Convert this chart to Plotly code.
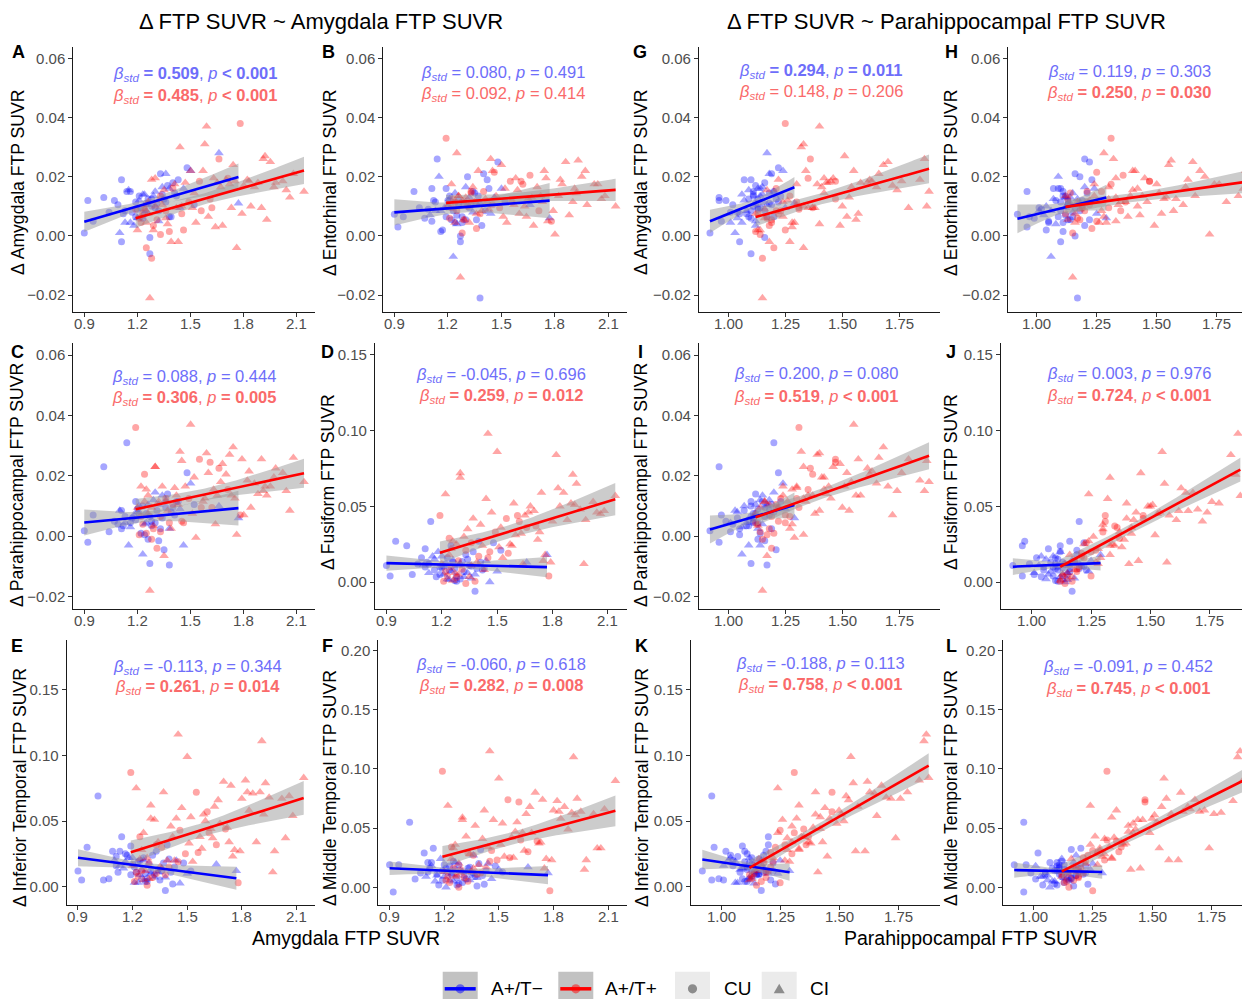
import numpy as np
import plotly.graph_objects as go

W, H = 1242, 999
FONT = "Liberation Sans, Arial, sans-serif"

# ---------------- data: A+/T- (blue) ----------------
blue_amy = [0.90,1.01,1.38,1.14,1.66,1.77,1.23,1.27,0.92,0.95,1.04,1.09,1.11,1.11,1.10,1.12,1.15,1.16,1.17,1.18,
            1.19,1.20,1.21,1.22,1.23,1.24,1.25,1.25,1.26,1.27,1.28,1.29,1.30,1.31,1.32,1.33,1.34,1.35,1.36,1.37,
            1.39,1.40,1.42,1.44,1.46,1.48,1.50,1.52,1.13,1.07,
            1.13,1.16,1.19,1.21,1.24,1.26,1.28,1.30,1.32,1.34,1.36,1.38,1.41,1.43,1.20]
blue_ph = [0.92,0.96,1.17,1.20,1.17,1.29,1.06,1.10,0.96,0.97,1.01,1.02,1.07,1.05,1.03,1.08,1.09,1.11,1.04,1.12,
           1.09,1.13,1.07,1.14,1.10,1.15,1.12,1.08,1.13,1.16,1.11,1.14,1.13,1.18,1.12,1.19,1.15,1.21,1.18,1.12,
           1.20,1.16,1.23,1.25,1.14,1.22,1.24,1.19,1.01,0.99,
           1.10,1.06,1.15,1.11,1.05,1.17,1.09,1.20,1.16,1.11,1.22,1.13,1.18,1.10,1.04]
blue_ci = [0,0,0,0,1,1,1,0,0,0,0,0,0,0,1,0,1,0,0,1,0,0,1,0,0,1,0,1,0,0,0,1,0,0,1,0,1,0,1,0,0,0,0,1,1,0,1,0,1,0,
           0,1,0,0,0,1,0,1,0,0,0,1,0,0,1]
blue_d_amy = [0.001,0.013,0.0065,0.015,0.028,0.011,0.014,-0.006,0.012,0.005,0.008,0.0105,0.019,-0.002,0.001,0.0075,
              0.0155,0.015,0.008,0.0035,0.0065,0.009,0.012,0.0095,0.006,0.014,0.011,0.0085,0.0125,-0.0005,0.010,
              0.0135,0.0095,0.011,0.005,0.021,0.0165,0.0125,0.021,0.017,0.0065,0.018,0.0135,0.0095,0.016,0.023,
              0.022,0.0105,0.0045,0.012,
              0.0085,0.0045,0.0115,0.0135,0.0075,0.0105,0.0125,0.015,0.0085,0.014,0.0115,0.016,0.0145,0.019,0.006]
blue_d_ent = [0.0073,0.015,-0.021,0.026,0.0105,0.006,-0.007,-0.002,0.003,0.0065,0.0095,0.009,0.016,0.005,0.007,0.012,
              0.020,0.0015,0.002,0.0095,0.016,0.012,0.0125,0.0055,0.0085,0.0145,0.007,0.004,0.0105,0.000,0.0045,
              0.011,0.0055,0.020,0.013,0.0105,0.008,0.0145,0.011,0.0135,0.0035,0.021,0.019,0.0075,0.013,0.025,
              0.016,0.012,0.0085,0.006,
              0.0115,0.0085,0.0065,0.0135,0.0045,0.0125,0.0065,0.0165,0.0095,0.015,0.0055,0.011,0.0085,0.016,0.010]
blue_d_phc = [0.0018,0.023,-0.0095,0.031,0.010,0.006,-0.006,-0.009,-0.002,0.007,0.0015,0.004,0.0085,0.0025,0.0085,
              0.0035,-0.003,0.0045,0.006,0.007,0.0055,0.009,0.010,0.001,0.010,0.004,0.0075,0.0045,-0.001,0.0065,
              0.005,0.012,0.0045,0.0085,0.0105,0.0025,0.0135,-0.0045,0.012,0.014,0.008,0.0095,0.0115,0.009,-0.003,
              0.021,0.0175,0.0105,0.0045,0.005,
              0.0065,0.003,0.0115,0.0075,0.0005,0.0105,0.0035,0.0145,-0.0015,0.006,0.0095,0.0025,0.007,0.0115,0.008]
blue_d_fus = [0.011,0.024,-0.006,0.040,0.013,0.018,0.002,0.001,0.004,0.027,0.005,0.016,0.022,0.010,0.011,0.013,
              0.017,0.008,0.0035,0.020,0.010,0.0095,0.005,0.012,0.016,0.0015,0.024,0.007,0.013,0.009,0.0005,0.011,
              0.002,0.0135,0.0035,0.018,0.006,0.011,0.0025,0.020,0.009,0.027,0.008,0.014,0.000,0.026,0.007,0.021,
              0.006,0.012,
              0.012,0.015,0.005,0.0105,0.008,0.0145,0.004,0.012,0.007,0.015,0.0105,0.005,0.013,0.009,0.017]
blue_d_it = [0.012,0.069,-0.003,0.038,0.017,0.012,0.003,0.004,0.005,0.030,
             0.005,0.027,0.023,0.016,0.020,0.011,0.014,0.025,0.024,0.022,
             0.031,0.017,0.003,0.011,0.019,0.009,0.006,0.013,0.022,0.010,
             0.004,0.018,0.012,0.024,0.007,0.027,0.011,0.005,0.014,0.018,
             0.032,0.021,0.002,0.020,0.0025,0.018,0.010,0.012,0.016,0.006,
             0.027,0.019,0.009,0.015,0.020,0.020,0.006,0.010,0.009,0.013,
             0.012,0.007,0.011,0.015,0.022]
blue_d_mt = [0.019,0.055,0.001,0.033,0.017,0.012,0.006,0.002,-0.004,0.019,0.007,0.029,0.021,0.013,0.009,0.016,
             0.005,0.011,0.002,0.024,0.014,0.019,0.000,0.013,0.018,0.011,0.022,0.005,0.015,0.008,0.019,0.014,
             0.004,0.010,0.013,0.016,0.006,0.011,0.027,0.009,0.020,0.032,0.0025,0.020,0.007,0.018,0.015,0.013,
             0.018,0.012,
             0.021,0.010,0.006,0.016,0.011,0.021,0.003,0.013,0.007,0.017,0.012,0.008,0.010,0.014,0.009]

# ---------------- data: A+/T+ (red) ----------------
red_amy = [1.19,1.20,1.21,1.22,1.23,1.24,1.25,1.25,1.26,1.27,1.28,1.28,1.29,1.30,1.31,1.32,1.33,1.34,1.35,1.36,
           1.37,1.39,1.40,1.42,1.44,1.45,1.46,1.47,1.49,1.50,1.51,1.53,1.55,1.57,1.59,1.60,1.62,1.63,1.65,1.66,
           1.68,1.70,1.72,1.74,1.75,1.76,1.78,1.79,1.80,1.82,1.84,1.86,1.88,1.90,1.91,1.93,1.95,1.98,2.02,2.06,
           2.08,2.14,1.24,1.30,1.38,1.43,1.56,1.64,1.71,1.97,
           1.22,1.26,1.29,1.33,1.36,1.41,1.45,1.52,1.58,1.61,1.67,1.73,1.83,1.92,2.04]
red_ph = [1.31,1.14,1.17,1.24,1.13,1.16,1.20,1.28,1.12,1.15,1.15,1.22,1.18,1.33,1.19,1.26,1.14,1.30,1.17,1.23,
          1.40,1.27,1.21,1.35,1.32,1.87,1.25,1.44,1.30,1.55,1.38,1.29,1.47,1.34,1.40,1.52,1.31,1.42,1.58,1.36,
          1.49,1.62,1.39,1.68,1.45,1.33,1.25,1.57,1.72,1.84,1.50,1.65,1.43,1.79,1.86,1.56,1.70,1.61,1.76,1.53,
          1.66,1.88,1.37,1.46,1.12,1.18,1.21,1.28,1.35,1.41,
          1.19,1.24,1.13,1.27,1.16,1.30,1.22,1.42,1.33,1.47,1.54,1.37,1.63,1.51,1.74]
red_ci = [0,1,0,1,0,1,0,1,1,1,0,1,0,1,0,1,0,1,1,0,1,1,0,1,1,1,0,1,0,1,1,1,0,1,1,1,0,1,1,0,
          1,1,1,1,1,1,0,1,1,1,1,1,1,1,1,1,1,1,1,1,1,1,0,1,0,1,0,1,0,1,
          0,1,1,0,1,1,0,1,1,0,1,1,1,1,1]
red_d_amy = [0.009,0.002,0.006,0.0065,0.0075,0.009,-0.004,0.0045,0.0075,-0.021,-0.0075,0.019,0.0035,0.010,0.0055,
             0.012,0.0005,0.0105,0.0155,0.0085,0.004,-0.002,0.016,0.0095,0.030,0.010,0.002,0.018,0.0115,0.022,
             0.0095,0.0045,0.0185,0.022,0.037,0.0065,0.0095,0.0195,0.018,0.026,0.0035,0.019,0.0175,0.024,0.0185,
             -0.004,0.038,0.0075,0.017,0.019,0.010,0.0165,0.018,0.0095,0.026,0.0055,0.025,0.018,0.0185,0.013,
             0.021,0.015,0.0095,0.0195,0.0015,-0.002,0.0085,0.003,0.0195,0.0165,
             0.0045,0.0115,0.002,0.0135,0.006,0.0175,0.0075,0.0145,0.031,0.0125,0.0165,0.0095,0.0185,0.027,0.0155]
red_d_ent = [0.033,0.0105,0.006,0.0175,0.0125,0.0045,0.0085,0.028,0.0135,-0.014,0.001,0.012,0.0055,0.013,0.010,
             0.0045,0.0145,0.0165,0.0115,0.0025,0.022,0.0085,0.015,0.0115,0.026,0.022,0.0215,0.0135,0.0095,0.024,
             0.0065,0.0045,0.0185,0.0105,0.0155,0.0075,0.0175,0.010,0.0125,0.0205,0.0035,0.0165,0.0135,0.022,
             0.0195,0.005,0.005,0.0085,0.0005,0.0135,0.0175,0.025,0.007,0.0115,0.016,0.0255,0.020,0.0105,0.0175,
             0.0125,0.0135,0.010,0.0115,0.0115,0.0075,0.009,0.0115,0.0065,0.0085,0.022,
             0.0095,0.0135,0.0055,0.015,0.0075,0.0125,0.0105,0.016,0.0195,0.0185,0.013,0.0115,0.019,0.0145,0.0175]
red_d_phc = [0.036,0.0095,0.0005,0.0165,0.004,0.0115,0.001,0.0155,0.0075,-0.018,-0.001,0.0095,0.0025,0.023,-0.004,
             0.0115,0.0015,0.0165,-0.0065,0.0125,0.0085,0.0025,0.0105,0.0135,0.028,0.025,0.0045,0.0165,0.0125,
             0.037,0.0075,-0.0005,0.0255,0.0115,0.0275,0.021,0.0095,0.0155,0.0135,0.0225,0.024,0.0205,0.027,
             0.0295,0.0125,0.0005,0.007,0.0255,0.007,0.0185,0.0095,0.0175,0.014,0.0255,0.015,0.0135,0.0165,
             0.0225,0.021,0.0085,0.026,0.018,0.0205,0.023,0.0045,0.0105,0.0095,0.004,0.0155,0.0195,
             0.0065,0.0135,0.0035,0.0065,0.0115,0.016,0.005,0.0195,0.0125,0.0245,0.018,0.0135,0.0215,0.0165,0.015]
red_d_fus = [0.044,0.012,0.0005,0.058,0.004,0.018,0.010,0.022,0.001,0.006,0.003,0.025,0.014,0.069,0.0085,0.030,
             -0.001,0.035,0.0035,0.026,0.042,0.013,0.017,0.024,0.055,0.098,0.020,0.046,0.033,0.086,0.023,0.016,
             0.042,0.025,0.052,0.031,0.040,0.032,0.044,0.036,0.050,0.047,0.028,0.059,0.014,0.018,0.004,0.013,
             0.040,0.084,0.050,0.059,0.041,0.052,0.071,0.065,0.048,0.041,0.053,0.045,0.047,0.057,0.029,0.072,
             0.0005,0.008,0.019,0.012,0.037,0.012,
             0.007,0.027,0.005,0.021,0.011,0.038,0.016,0.036,0.024,0.044,0.046,0.033,0.062,0.051,0.046]
red_d_it = [0.087,0.016,0.004,0.075,0.008,0.021,0.012,0.028,0.005,0.012,0.001,0.022,0.018,0.062,0.007,0.051,
            0.010,0.034,0.015,0.030,0.072,0.020,0.015,0.038,0.052,0.116,0.043,0.060,0.025,0.099,0.033,0.019,
            0.072,0.038,0.055,0.050,0.041,0.044,0.061,0.032,0.048,0.080,0.045,0.077,0.023,0.028,0.003,0.027,
            0.067,0.081,0.058,0.071,0.034,0.072,0.111,0.079,0.068,0.027,0.067,0.069,0.054,0.083,0.038,0.052,
            0.009,0.020,0.026,0.037,0.044,0.011,
            0.011,0.041,0.006,0.032,0.014,0.046,0.019,0.053,0.029,0.057,0.066,0.034,0.072,0.055,0.037]
red_d_mt = [0.098,0.013,0.006,0.069,0.004,0.024,0.016,0.033,0.009,0.010,0.000,0.020,0.015,0.059,0.008,0.043,
            0.005,0.028,0.013,0.027,0.052,0.019,0.012,0.065,0.034,0.115,0.031,0.057,0.023,0.092,0.036,0.026,
            0.074,0.042,0.047,0.055,0.040,0.046,0.062,0.030,0.046,0.080,0.037,0.074,0.016,0.024,-0.003,0.023,
            0.065,0.073,0.058,0.068,0.049,0.063,0.110,0.075,0.064,0.023,0.062,0.033,0.066,0.090,0.034,0.057,
            0.011,0.017,0.025,0.031,0.039,0.015,
            0.009,0.036,0.012,0.029,0.016,0.041,0.022,0.054,0.025,0.072,0.068,0.038,0.064,0.061,0.033]

# ---------------- annotation statistics ----------------
panel_letters = ["A","B","C","D","E","F","G","H","I","J","K","L"]
beta_blue = ["0.509","0.080","0.088","-0.045","-0.113","-0.060","0.294","0.119","0.200","0.003","-0.188","-0.091"]
pcmp_blue = ["<","=","=","=","=","=","=","=","=","=","=","="]
pval_blue = ["0.001","0.491","0.444","0.696","0.344","0.618","0.011","0.303","0.080","0.976","0.113","0.452"]
sig_blue = [True,False,False,False,False,False,True,False,False,False,False,False]
beta_red = ["0.485","0.092","0.306","0.259","0.261","0.282","0.148","0.250","0.519","0.724","0.758","0.745"]
pcmp_red = ["<","=","=","=","=","=","=","=","<","<","<","<"]
pval_red = ["0.001","0.414","0.005","0.012","0.014","0.008","0.206","0.030","0.001","0.001","0.001","0.001"]
sig_red = [True,False,True,True,True,True,False,True,True,True,True,True]

groups = {
    "blue": dict(x={"amy": blue_amy, "ph": blue_ph}, ci=blue_ci,
                 y={"amy": blue_d_amy, "ent": blue_d_ent, "phc": blue_d_phc,
                    "fus": blue_d_fus, "it": blue_d_it, "mt": blue_d_mt},
                 pt="rgba(0,0,255,0.5)", line="#0000FF", txt="#6E6EFA"),
    "red": dict(x={"amy": red_amy, "ph": red_ph}, ci=red_ci,
                y={"amy": red_d_amy, "ent": red_d_ent, "phc": red_d_phc,
                   "fus": red_d_fus, "it": red_d_it, "mt": red_d_mt},
                pt="rgba(255,0,0,0.5)", line="#FF0000", txt="#FA6A6A"),
}
for g in groups.values():
    n = len(g["ci"])
    assert all(len(v) == n for v in g["x"].values()), "x length"
    assert all(len(v) == n for v in g["y"].values()), "y length"

ylabels = {"amy": "Δ Amygdala FTP SUVR", "ent": "Δ Entorhinal FTP SUVR",
           "phc": "Δ Parahippocampal FTP SUVR", "fus": "Δ Fusiform FTP SUVR",
           "it": "Δ Inferior Temporal FTP SUVR", "mt": "Δ Middle Temporal FTP SUVR"}

T_SMALL = ([-0.02, 0, 0.02, 0.04, 0.06], ["−0.02", "0.00", "0.02", "0.04", "0.06"])
T_15 = ([0, 0.05, 0.10, 0.15], ["0.00", "0.05", "0.10", "0.15"])
T_20 = ([0, 0.05, 0.10, 0.15, 0.20], ["0.00", "0.05", "0.10", "0.15", "0.20"])
XT_AMY = ([0.9, 1.2, 1.5, 1.8, 2.1], ["0.9", "1.2", "1.5", "1.8", "2.1"])
XT_PH = ([1.0, 1.25, 1.5, 1.75], ["1.00", "1.25", "1.50", "1.75"])

# layout spec per panel: pixel box (left, right, top, bottom), ranges, ticks, label positions
panels = [
    dict(xv="amy", yv="amy", box=(73.3, 315, 46.5, 311.7), xr=(0.838, 2.202), yr=(-0.0256, 0.064), yt=T_SMALL, st=(195, 74, 96), yl=(18, 183), lt=(18, 52)),
    dict(xv="amy", yv="ent", box=(383.3, 626.7, 46.5, 311.7), xr=(0.838, 2.202), yr=(-0.0256, 0.064), yt=T_SMALL, st=(503, 73, 94), yl=(330, 183), lt=(328, 52)),
    dict(xv="amy", yv="phc", box=(73.3, 315, 343, 609), xr=(0.838, 2.202), yr=(-0.0241, 0.064), yt=T_SMALL, st=(194, 377, 398), yl=(17, 485), lt=(17, 352)),
    dict(xv="amy", yv="fus", box=(375, 626.7, 343, 609), xr=(0.838, 2.202), yr=(-0.0178, 0.1579), yt=T_15, st=(501, 375, 396), yl=(328, 482), lt=(327, 352)),
    dict(xv="amy", yv="it", box=(66.7, 315, 640, 905), xr=(0.838, 2.202), yr=(-0.014, 0.188), yt=T_15, st=(197, 667, 687), yl=(20, 788), lt=(17, 646)),
    dict(xv="amy", yv="mt", box=(378.3, 626.7, 640, 905), xr=(0.838, 2.202), yr=(-0.015, 0.209), yt=T_20, st=(501, 665, 686), yl=(330, 788), lt=(327, 646)),
    dict(xv="ph", yv="amy", box=(699, 940, 46.5, 311.7), xr=(0.872, 1.928), yr=(-0.0256, 0.064), yt=T_SMALL, st=(821, 71, 92), yl=(641, 183), lt=(640, 52)),
    dict(xv="ph", yv="ent", box=(1008.3, 1242, 46.5, 311.7), xr=(0.882, 1.855), yr=(-0.0256, 0.064), yt=T_SMALL, st=(1129, 72, 93), yl=(951, 183), lt=(951, 52)),
    dict(xv="ph", yv="phc", box=(699, 940, 343, 609), xr=(0.872, 1.928), yr=(-0.0241, 0.064), yt=T_SMALL, st=(816, 374, 397), yl=(641, 485), lt=(640, 352)),
    dict(xv="ph", yv="fus", box=(1001, 1242, 343, 609), xr=(0.870, 1.887), yr=(-0.0178, 0.1579), yt=T_15, st=(1129, 374, 396), yl=(951, 482), lt=(951, 352)),
    dict(xv="ph", yv="it", box=(691, 940, 640, 905), xr=(0.872, 1.928), yr=(-0.014, 0.188), yt=T_15, st=(820, 664, 685), yl=(642, 788), lt=(641, 646)),
    dict(xv="ph", yv="mt", box=(1003.3, 1242, 640, 905), xr=(0.874, 1.878), yr=(-0.015, 0.209), yt=T_20, st=(1128, 667, 689), yl=(951, 788), lt=(951, 646)),
]


def px(v):
    return v / W


def py(v):
    return 1 - v / H


def fit_band(x, y, n=80):
    x = np.asarray(x, float)
    y = np.asarray(y, float)
    nobs = len(x)
    b1, b0 = np.polyfit(x, y, 1)
    xs = np.linspace(x.min(), x.max(), n)
    yhat = b0 + b1 * xs
    resid = y - (b0 + b1 * x)
    s = np.sqrt(np.sum(resid ** 2) / (nobs - 2))
    sxx = np.sum((x - x.mean()) ** 2)
    df = nobs - 2
    z = 1.959964
    t = z + (z ** 3 + z) / (4 * df) + (5 * z ** 5 + 16 * z ** 3 + 3 * z) / (96 * df ** 2)
    se = s * np.sqrt(1 / nobs + (xs - x.mean()) ** 2 / sxx)
    return xs, yhat, yhat - t * se, yhat + t * se


def stat_text(beta, cmp, pval, sig):
    c = "&lt;" if cmp == "<" else "="
    b = f"= {beta}"
    p = f"{c} {pval}"
    if sig:
        b = f"<b>{b}</b>"
        p = f"<b>{p}</b>"
    return f"<i>β</i><sub><i>std</i></sub> {b}, <i>p</i> {p}"


fig = go.Figure()
layout = dict(width=W, height=H, margin=dict(l=0, r=0, t=0, b=0),
              paper_bgcolor="white", plot_bgcolor="white", showlegend=False,
              font=dict(family=FONT, color="black"))
annotations = []
shapes = []
TICKFONT = dict(family=FONT, size=15, color="#4D4D4D")

for i, pn in enumerate(panels):
    k = i + 1
    xa = "x" if k == 1 else f"x{k}"
    ya = "y" if k == 1 else f"y{k}"
    l, r, t, b = pn["box"]
    common = dict(showline=True, linecolor="#1a1a1a", linewidth=1.1, ticks="outside", ticklen=4,
                  tickwidth=1.1, tickcolor="#333333", showgrid=False, zeroline=False,
                  tickfont=TICKFONT, fixedrange=True)
    xt = XT_AMY if pn["xv"] == "amy" else XT_PH
    layout[f"xaxis{k if k > 1 else ''}"] = dict(
        domain=[px(l), px(r)], range=list(pn["xr"]), anchor=ya,
        tickvals=xt[0], ticktext=xt[1], showticklabels=False, **common)
    layout[f"yaxis{k if k > 1 else ''}"] = dict(
        domain=[py(b), py(t)], range=list(pn["yr"]), anchor=xa,
        tickvals=pn["yt"][0], ticktext=pn["yt"][1], **common)
    # x tick labels (placed close to the axis, as in the reference)
    for v, s in zip(*xt):
        annotations.append(dict(x=v, xref=xa, y=py(b + 11.8), yref="paper", showarrow=False,
                                text=s, font=TICKFONT, xanchor="center", yanchor="middle"))

    # points
    for gname in ("blue", "red"):
        g = groups[gname]
        xs = g["x"][pn["xv"]]
        ys = g["y"][pn["yv"]]
        fig.add_trace(go.Scatter(
            x=xs, y=ys, xaxis=xa, yaxis=ya, mode="markers", hoverinfo="skip",
            marker=dict(color=g["pt"],
                        symbol=["triangle-up" if c else "circle" for c in g["ci"]],
                        size=[8.5 if c else 7 for c in g["ci"]],
                        line=dict(width=0))))
    fits = {}
    for gname in ("blue", "red"):
        g = groups[gname]
        fits[gname] = fit_band(g["x"][pn["xv"]], g["y"][pn["yv"]])
    # ribbons
    for gname in ("blue", "red"):
        xs, yh, lo, hi = fits[gname]
        fig.add_trace(go.Scatter(
            x=np.concatenate([xs, xs[::-1]]), y=np.concatenate([hi, lo[::-1]]),
            xaxis=xa, yaxis=ya, mode="lines", fill="toself",
            fillcolor="rgba(153,153,153,0.5)", line=dict(width=0), hoverinfo="skip"))
    # lines
    for gname in ("blue", "red"):
        xs, yh, lo, hi = fits[gname]
        fig.add_trace(go.Scatter(x=xs, y=yh, xaxis=xa, yaxis=ya, mode="lines",
                                 line=dict(color=groups[gname]["line"], width=2.6), hoverinfo="skip"))

    # statistics text
    sx, sy1, sy2 = pn["st"]
    annotations.append(dict(x=px(sx), y=py(sy1), xref="paper", yref="paper", showarrow=False,
                            text=stat_text(beta_blue[i], pcmp_blue[i], pval_blue[i], sig_blue[i]),
                            font=dict(family=FONT, size=16.5, color=groups["blue"]["txt"]),
                            xanchor="center", yanchor="middle"))
    annotations.append(dict(x=px(sx), y=py(sy2), xref="paper", yref="paper", showarrow=False,
                            text=stat_text(beta_red[i], pcmp_red[i], pval_red[i], sig_red[i]),
                            font=dict(family=FONT, size=16.5, color=groups["red"]["txt"]),
                            xanchor="center", yanchor="middle"))
    # y axis title
    annotations.append(dict(x=px(pn["yl"][0]), y=py(pn["yl"][1]), xref="paper", yref="paper",
                            showarrow=False, text=ylabels[pn["yv"]], textangle=-90,
                            font=dict(family=FONT, size=17.6, color="black"),
                            xanchor="center", yanchor="middle"))
    # panel letter
    annotations.append(dict(x=px(pn["lt"][0]), y=py(pn["lt"][1]), xref="paper", yref="paper",
                            showarrow=False, text=f"<b>{panel_letters[i]}</b>",
                            font=dict(family=FONT, size=18, color="black"),
                            xanchor="center", yanchor="middle"))

# column titles and x-axis titles
for txt, cx, cy, sz in [("Δ FTP SUVR ~ Amygdala FTP SUVR", 321, 22, 22),
                        ("Δ FTP SUVR ~ Parahippocampal FTP SUVR", 946, 22, 22),
                        ("Amygdala FTP SUVR", 346, 938, 19.5),
                        ("Parahippocampal FTP SUVR", 970, 938, 19.5)]:
    annotations.append(dict(x=px(cx), y=py(cy), xref="paper", yref="paper", showarrow=False,
                            text=txt, font=dict(family=FONT, size=sz, color="black"),
                            xanchor="center", yanchor="middle"))

# legend (drawn as shapes + text)
legend_keys = [
    dict(x0=442.7, kind="line", col="#0000FF", pt="rgba(0,0,255,0.5)", bg="#C2C2C2", label="A+/T−", tx=489),
    dict(x0=558.3, kind="line", col="#FF0000", pt="rgba(255,0,0,0.5)", bg="#C2C2C2", label="A+/T+", tx=603),
    dict(x0=675.0, kind="circle", col=None, pt="#8C8C8C", bg="#EBEBEB", label="CU", tx=721.7),
    dict(x0=761.7, kind="tri", col=None, pt="#8C8C8C", bg="#EBEBEB", label="CI", tx=808),
]
ky0, ky1, kc = 971.7, 1006.7, 988.8
for kd in legend_keys:
    x0 = kd["x0"]
    x1 = x0 + 35
    cx = (x0 + x1) / 2
    shapes.append(dict(type="rect", xref="paper", yref="paper", x0=px(x0), x1=px(x1),
                       y0=py(ky1), y1=py(ky0), fillcolor=kd["bg"], line=dict(width=0), layer="above"))
    if kd["kind"] == "line":
        shapes.append(dict(type="line", xref="paper", yref="paper", x0=px(x0 + 2), x1=px(x1 - 2),
                           y0=py(kc), y1=py(kc), line=dict(color=kd["col"], width=3.5), layer="above"))
    if kd["kind"] in ("line", "circle"):
        rr = 4.6
        shapes.append(dict(type="circle", xref="paper", yref="paper", x0=px(cx - rr), x1=px(cx + rr),
                           y0=py(kc + rr), y1=py(kc - rr), fillcolor=kd["pt"], line=dict(width=0),
                           layer="above"))
    else:
        path = (f"M {px(cx - 5.5)},{py(kc + 4.5)} L {px(cx + 5.5)},{py(kc + 4.5)} "
                f"L {px(cx)},{py(kc - 5)} Z")
        shapes.append(dict(type="path", xref="paper", yref="paper", path=path,
                           fillcolor=kd["pt"], line=dict(width=0), layer="above"))
    annotations.append(dict(x=px(kd["tx"]), y=py(kc), xref="paper", yref="paper", showarrow=False,
                            text=kd["label"], font=dict(family=FONT, size=19, color="black"),
                            xanchor="left", yanchor="middle"))

layout["annotations"] = annotations
layout["shapes"] = shapes
fig.update_layout(**layout)

fig.write_html("out.html", config={"displayModeBar": False},
               post_script="document.body.style.margin='0';document.body.style.overflow='hidden';")
